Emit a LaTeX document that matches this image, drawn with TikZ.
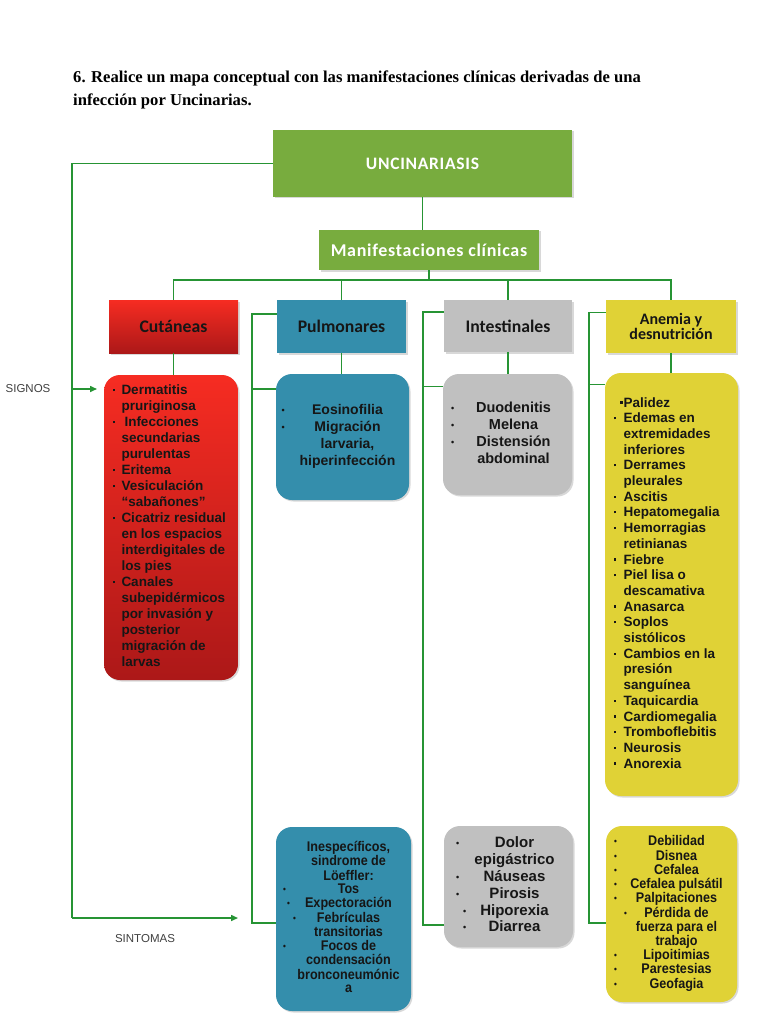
\documentclass[tikz,border=0pt]{standalone}
\usepackage{fontspec}
\usepackage{array}
\setmainfont{Liberation Sans}
\newfontfamily\hdfont{Carlito}
\newfontfamily\hdwidefont{Carlito}[LetterSpace=4]
\newfontfamily\titlefont{Liberation Serif}
\newfontfamily\narrowfont{Liberation Sans}[FakeStretch=0.9]
\usetikzlibrary{arrows.meta,shadows}
\definecolor{lgreen}{RGB}{38,148,52}
\definecolor{bgreen}{RGB}{120,172,62}
\definecolor{redtop}{RGB}{246,44,34}
\definecolor{redbot}{RGB}{172,24,24}
\definecolor{ublue}{RGB}{52,142,172}
\definecolor{ugrey}{RGB}{192,192,192}
\definecolor{uyellow}{RGB}{224,210,54}
\definecolor{txtdark}{RGB}{22,22,22}
\newcommand\sqbul{\raisebox{3.5pt}{\rule{2.2pt}{2.2pt}}}
\newcommand\rndbul{{\fontsize{9}{9}\selectfont\raisebox{1pt}{•}}}
\newcommand\rndbulat[1]{\leavevmode\rlap{\hspace{#1}\rndbul}}
\begin{document}
\begin{tikzpicture}
  [
    x=1pt,y=-1pt,
    link/.style={draw=lgreen,line width=1.5pt},
    tip/.style={-{Triangle[length=7pt,width=6pt]}},
    shade/.style={drop shadow={opacity=0.3,shadow xshift=1.5pt,shadow yshift=-1.5pt}},
    hdbox/.style={rectangle,shade,inner sep=0pt,text=txtdark,
      font=\hdfont\bfseries\fontsize{17.7}{19}\selectfont},
    itembox/.style={rectangle,rounded corners=16pt,shade,inner sep=0pt,text=txtdark,
      font=\bfseries},
    side/.style={font=\fontsize{11.5}{13}\selectfont,text=black!75},
  ]
  \fill[white] (0,0) rectangle (768,1024);
  \useasboundingbox (0,0) rectangle (768,1024);

  \node[anchor=north west,align=left,inner sep=0pt,
    font=\titlefont\bfseries\fontsize{16.6}{23}\selectfont] (title) at (73,71)
    {6. Realice un mapa conceptual con las manifestaciones clínicas derivadas de una\\
     infección por Uncinarias.};

  \node[hdbox,fill=bgreen,text=white,minimum width=299pt,minimum height=67pt,
    font=\hdwidefont\bfseries\fontsize{17.5}{19}\selectfont] (unc) at (422.5,163.5) {UNCINARIASIS};
  \node[hdbox,fill=bgreen,text=white,minimum width=220pt,minimum height=40pt,
    font=\hdwidefont\bfseries\fontsize{18}{19}\selectfont] (manif) at (429,250) {Manifestaciones clínicas};
  \coordinate (bus) at (429,280);

  \node[hdbox,top color=redtop,bottom color=redbot,minimum width=129pt,minimum height=53pt] (cut) at (173.5,326.5) {Cutáneas};
  \node[hdbox,fill=ublue,minimum width=129pt,minimum height=53pt] (pulm) at (341.5,326.5) {Pulmonares};
  \node[hdbox,fill=ugrey,minimum width=128pt,minimum height=52pt] (intest) at (508,326) {Intestinales};
  \node[hdbox,fill=uyellow,align=center,minimum width=130pt,minimum height=53pt,
    font=\hdfont\bfseries\fontsize{16}{15.5}\selectfont] (anemia) at (671,326.5) {Anemia y\\desnutrición};

  \node[itembox,top color=redtop,bottom color=redbot,minimum width=134pt,minimum height=305pt] (cutsig) at (171,527.5)
    {\fontsize{13.5}{16}\selectfont
     \begin{tabular}{@{}p{9pt}@{}p{108pt}@{}}
     \sqbul & Dermatitis\\
            & pruriginosa\\
     \sqbul & \hspace{3pt}Infecciones\\
            & secundarias\\
            & purulentas\\
     \sqbul & Eritema\\
     \sqbul & Vesiculación\\
            & “sabañones”\\
     \sqbul & Cicatriz residual\\
            & en los espacios\\
            & interdigitales de\\
            & los pies\\
     \sqbul & Canales\\
            & subepidérmicos\\
            & por invasión y\\
            & posterior\\
            & migración de\\
            & larvas
     \end{tabular}};

  \node[itembox,fill=ublue,minimum width=133pt,minimum height=126pt] (pulsig) at (342.5,437)
    {\fontsize{14}{17}\selectfont
     \begin{tabular}{@{}p{10pt}@{}>{\centering\arraybackslash}p{112pt}@{}}
     \rndbul & Eosinofilia\\
     \rndbul & Migración\\
             & larvaria,\\
             & hiperinfección
     \end{tabular}};

  \node[itembox,fill=ugrey,minimum width=129pt,minimum height=121pt] (intsig) at (507.5,434.5)
    {\fontsize{14.5}{17}\selectfont
     \begin{tabular}{@{}p{12pt}@{}>{\centering\arraybackslash}p{101pt}@{}}
     \rndbul & Duodenitis\\
     \rndbul & Melena\\
     \rndbul & Distensión\\
             & abdominal
     \end{tabular}};

  \node[itembox,fill=uyellow,minimum width=133pt,minimum height=423pt] (anesig) at (671.5,584.5)
    {\fontsize{13.5}{15.7}\selectfont
     \begin{tabular}{@{}p{10pt}@{}p{106pt}@{}}
            & \leavevmode\llap{\sqbul\hspace{1pt}}Palidez\\
     \sqbul & Edemas en\\
            & extremidades\\
            & inferiores\\
     \sqbul & Derrames\\
            & pleurales\\
     \sqbul & Ascitis\\
     \sqbul & Hepatomegalia\\
     \sqbul & Hemorragias\\
            & retinianas\\
     \sqbul & Fiebre\\
     \sqbul & Piel lisa o\\
            & descamativa\\
     \sqbul & Anasarca\\
     \sqbul & Soplos\\
            & sistólicos\\
     \sqbul & Cambios en la\\
            & presión\\
            & sanguínea\\
     \sqbul & Taquicardia\\
     \sqbul & Cardiomegalia\\
     \sqbul & Tromboflebitis\\
     \sqbul & Neurosis\\
     \sqbul & Anorexia
     \end{tabular}};

  \node[itembox,fill=ublue,minimum width=135pt,minimum height=184pt] (pulsin) at (343.5,919)
    {\narrowfont\bfseries\fontsize{14}{13.4}\selectfont
     \begin{tabular}{@{}p{10pt}@{}>{\centering\arraybackslash}p{111pt}@{}}
             & Inespecíficos,\\
             & sindrome de\\
             & Löeffler:\\
     \rndbul & Tos\\
     \rndbulat{4pt} & Expectoración\\
     \rndbulat{10pt} & Febrículas\\
             & transitorias\\
     \rndbul & Focos de\\
             & condensación\\
             & bronconeumónic\\
             & a
     \end{tabular}};

  \node[itembox,fill=ugrey,minimum width=129pt,minimum height=121pt] (intsin) at (508.5,886.5)
    {\fontsize{15}{16.8}\selectfont
     \begin{tabular}{@{}p{12pt}@{}>{\centering\arraybackslash}p{93pt}@{}}
     \rndbul & Dolor\\
             & epigástrico\\
     \rndbul & Náuseas\\
     \rndbul & Pirosis\\
     \rndbulat{7pt} & Hiporexia\\
     \rndbulat{7pt} & Diarrea
     \end{tabular}};

  \node[itembox,fill=uyellow,minimum width=131pt,minimum height=176pt] (anesin) at (671.5,914)
    {\narrowfont\bfseries\fontsize{14}{13.5}\selectfont
     \begin{tabular}{@{}p{10pt}@{}>{\centering\arraybackslash}p{105pt}@{}}
     \rndbul & Debilidad\\
     \rndbul & Disnea\\
     \rndbul & Cefalea\\
     \rndbul & Cefalea pulsátil\\
     \rndbul & Palpitaciones\\
     \rndbulat{10pt} & Pérdida de\\
             & fuerza para el\\
             & trabajo\\
     \rndbul & Lipoitimias\\
     \rndbul & Parestesias\\
     \rndbul & Geofagia
     \end{tabular}};

  \node[side] (signos) at (28,389) {SIGNOS};
  \node[side] (sintomas) at (145,939) {SINTOMAS};

  \coordinate (lbar) at (72,0);
  \coordinate (pbar) at (252,0);
  \coordinate (ibar) at (423,0);
  \coordinate (abar) at (589,0);
  \coordinate (sigend) at (97,389);
  \coordinate (sinend) at (238,918);

  \draw[link] (unc.south) -- (unc.south |- manif.north);
  \draw[link] (manif.south) -- (bus);
  \draw[link] (cut.north) -- (cut.north |- bus) -| (anemia.north);
  \draw[link] (pulm.north) -- (pulm.north |- bus);
  \draw[link] (intest.north) -- (intest.north |- bus);

  \draw[link] (cut.south) -- (cut.south |- cutsig.north);
  \draw[link] (pulm.south) -- (pulm.south |- pulsig.north);
  \draw[link] (intest.south) -- (intest.south |- intsig.north);
  \draw[link] (anemia.south) -- (anemia.south |- anesig.north);

  \draw[link] (unc.west) -| (sinend -| lbar);
  \draw[link,tip] (sinend -| lbar) -- (sinend);
  \draw[link,tip] (sigend -| lbar) -- (sigend);

  \draw[link] ([yshift=12.5pt]pulm.west) -| ([yshift=-4pt]pulsin.west -| pbar) -- ([yshift=-4pt]pulsin.west);
  \draw[link] ([yshift=48pt]pulsig.west -| pbar) -- ([yshift=48pt]pulsig.west);

  \draw[link] ([yshift=14pt]intest.west) -| ([yshift=-38.5pt]intsin.west -| ibar) -- ([yshift=-38.5pt]intsin.west);
  \draw[link] ([yshift=48pt]intsig.west -| ibar) -- ([yshift=48pt]intsig.west);

  \draw[link] ([yshift=14pt]anemia.west) -| ([yshift=-9pt]anesin.west -| abar) -- ([yshift=-9pt]anesin.west);
  \draw[link] ([yshift=200pt]anesig.west -| abar) -- ([yshift=200pt]anesig.west);
\end{tikzpicture}
\end{document}
